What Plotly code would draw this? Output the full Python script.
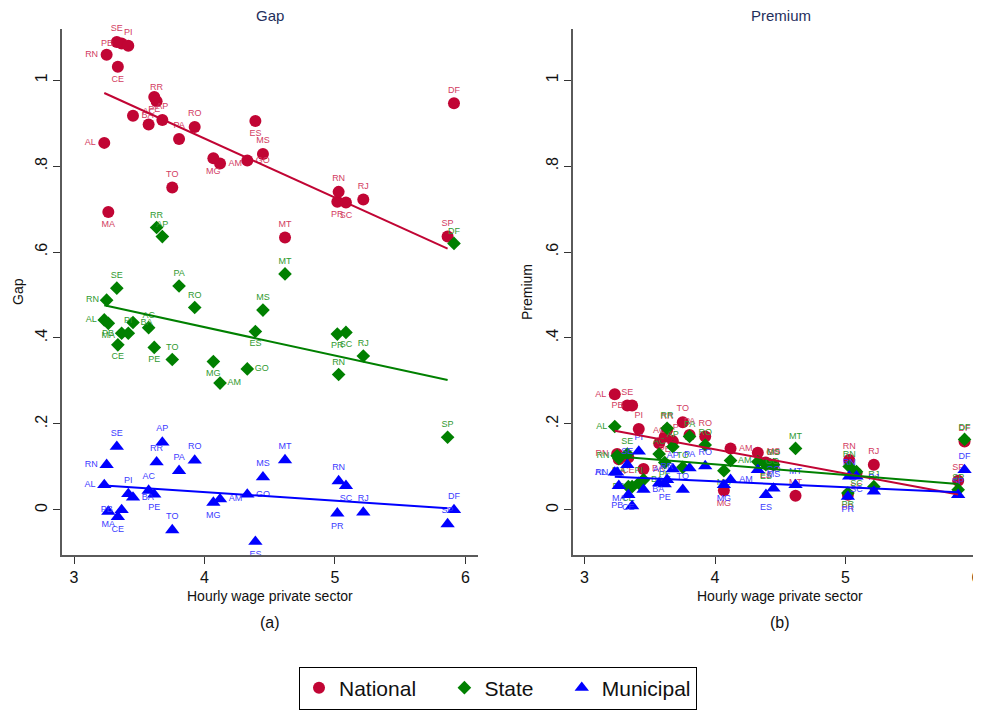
import plotly.graph_objects as go

# ---------------- data ----------------
states = ["AC", "AL", "AM", "AP", "BA", "CE", "DF", "ES", "GO", "MA", "MG", "MS", "MT", "PA",
          "PB", "PE", "PI", "PR", "RJ", "RN", "RN", "RO", "RR", "SC", "SE", "SP", "TO"]
wage = [3.572, 3.232, 4.119, 3.677, 3.452, 3.336, 5.912, 4.390, 4.328, 3.263, 4.068, 4.448, 4.617, 3.805,
        3.365, 3.615, 3.416, 5.018, 5.217, 3.250, 5.028, 3.925, 3.633, 5.084, 3.328, 5.863, 3.753]
label_pos = ["top", "left", "right", "top", "right", "bottom", "top", "bottom", "right", "bottom", "bottom",
             "top", "top", "top", "left", "bottom", "top", "bottom", "top", "left", "top", "top", "top",
             "bottom", "top", "top", "top"]

gap_national = [0.897, 0.854, 0.806, 0.907, 0.917, 1.031, 0.946, 0.905, 0.813, 0.693, 0.818, 0.828, 0.634, 0.863,
                1.085, 0.961, 1.080, 0.717, 0.722, 1.059, 0.740, 0.891, 0.951, 0.715, 1.089, 0.636, 0.750]
gap_state = [0.424, 0.442, 0.295, 0.636, 0.436, 0.384, 0.620, 0.415, 0.328, 0.434, 0.345, 0.465, 0.549, 0.521,
             0.411, 0.378, 0.411, 0.409, 0.358, 0.488, 0.315, 0.471, 0.657, 0.413, 0.516, 0.169, 0.350]
gap_municipal = [0.045, 0.058, 0.025, 0.157, 0.029, -0.016, 0.000, -0.074, 0.036, -0.004, 0.017, 0.076, 0.116, 0.091,
                 0.000, 0.036, 0.037, -0.008, -0.006, 0.105, 0.067, 0.115, 0.111, 0.056, 0.147, -0.033, -0.047]

prem_national = [0.155, 0.269, 0.143, 0.160, 0.095, 0.122, 0.159, 0.110, 0.133, 0.118, 0.045, 0.105, 0.033, 0.174,
                 0.243, 0.170, 0.188, 0.035, 0.105, 0.130, 0.116, 0.171, 0.186, 0.085, 0.243, 0.068, 0.204]
prem_state = [0.130, 0.194, 0.115, 0.147, 0.070, 0.054, 0.164, 0.105, 0.112, 0.120, 0.091, 0.105, 0.143, 0.171,
              0.054, 0.110, 0.062, 0.039, 0.054, 0.126, 0.101, 0.151, 0.190, 0.089, 0.130, 0.047, 0.099]
prem_municipal = [0.062, 0.087, 0.070, 0.095, 0.047, 0.035, 0.093, 0.035, 0.093, 0.056, 0.058, 0.050, 0.058, 0.097,
                  0.009, 0.060, 0.136, 0.031, 0.043, 0.087, 0.078, 0.102, 0.070, 0.078, 0.105, 0.035, 0.047]

# linear-fit lines (endpoints)
fit_x = [3.232, 5.863]
gap_fit = {"National": [0.970, 0.608], "State": [0.476, 0.302], "Municipal": [0.057, 0.004]}
prem_fit = {"National": [0.184, 0.036], "State": [0.125, 0.060], "Municipal": [0.077, 0.041]}

series = ["National", "State", "Municipal"]
y_ticks = [0, 0.2, 0.4, 0.6, 0.8, 1]
y_ticktext = ["0", ".2", ".4", ".6", ".8", "1"]
x_ticks = [3, 4, 5, 6]

# ---------------- styles ----------------
colors = {"National": "#c10534", "State": "#008000", "Municipal": "#0000ff"}
label_colors = {"National": "#d23c62", "State": "#2f9a2f", "Municipal": "#3c3cff"}
symbols = {"National": "circle", "State": "diamond", "Municipal": "triangle-up"}
sizes = {"National": 12, "State": 10.5, "Municipal": 12.5}
# trailing no-break spaces widen the gap between legend entries
legend_pad = {"National": "\u00a0" * 4, "State": "\u00a0" * 4, "Municipal": ""}
pos_map = {"top": "top center", "bottom": "bottom center", "left": "middle left", "right": "middle right"}
text_pos = [pos_map[p] for p in label_pos]
FONT = "Liberation Sans, Arial, sans-serif"

fig = go.Figure()

panels = [
    ("x", "y", {"National": gap_national, "State": gap_state, "Municipal": gap_municipal}, gap_fit, True),
    ("x2", "y2", {"National": prem_national, "State": prem_state, "Municipal": prem_municipal}, prem_fit, False),
]

for xa, ya, data, fits, show in panels:
    for s in series:
        fig.add_trace(go.Scatter(
            x=wage, y=data[s], xaxis=xa, yaxis=ya, mode="markers+text", name=s + legend_pad[s],
            text=states, textposition=text_pos,
            textfont=dict(size=9, color=label_colors[s], family=FONT),
            marker=dict(symbol=symbols[s], size=sizes[s], color=colors[s]),
            showlegend=show, legendgroup=s, cliponaxis=False,
        ))
    for s in series:
        fig.add_trace(go.Scatter(
            x=fit_x, y=fits[s], xaxis=xa, yaxis=ya, mode="lines",
            line=dict(color=colors[s], width=2), showlegend=False, hoverinfo="skip",
        ))

# the page body has an 8px margin: place everything in page pixels
OX, OY = 8, 8
W, H = 981 - OX, 710 - OY
def px(x):
    return (x - OX) / W
def py(y):
    return (H - (y - OY)) / H

axis_common = dict(showline=True, linecolor="#5a5a5a", linewidth=1.5, ticks="outside", ticklen=7,
                   tickwidth=1.3, tickcolor="#333333", showgrid=False, zeroline=False,
                   tickfont=dict(size=16, color="#111111", family=FONT))

fig.update_layout(
    width=W, height=H, margin=dict(l=0, r=0, t=0, b=0),
    paper_bgcolor="white", plot_bgcolor="white",
    font=dict(family=FONT, color="#111111"),
    xaxis=dict(domain=[px(62), px(478)], range=[2.908, 6.096], tickvals=x_ticks, anchor="y", **axis_common),
    yaxis=dict(domain=[py(555), py(29)], range=[-0.105, 1.119], tickvals=y_ticks, ticktext=y_ticktext,
               tickangle=-90, anchor="x", **axis_common),
    xaxis2=dict(domain=[px(573), 1.0], range=[2.912, 6.038], tickvals=x_ticks, anchor="y2", **axis_common),
    yaxis2=dict(domain=[py(555), py(29)], range=[-0.105, 1.119], tickvals=y_ticks, ticktext=y_ticktext,
                tickangle=-90, anchor="x2", **axis_common),
    legend=dict(orientation="h", x=px(498), xanchor="center", y=py(688), yanchor="middle",
                bordercolor="black", borderwidth=1, font=dict(size=21, family=FONT, color="#111111"),
                itemwidth=30, bgcolor="white"),
)

annotations = [
    dict(text="Gap", x=px(270), y=py(15), font=dict(size=15, color="#1f2f5c")),
    dict(text="Premium", x=px(781), y=py(15), font=dict(size=15, color="#1f2f5c")),
    dict(text="Gap", x=px(18), y=py(292), textangle=-90, font=dict(size=14, color="#111111")),
    dict(text="Premium", x=px(527), y=py(292), textangle=-90, font=dict(size=14, color="#111111")),
    dict(text="Hourly wage private sector", x=px(270), y=py(596), font=dict(size=14, color="#111111")),
    dict(text="Hourly wage private sector", x=px(780), y=py(596), font=dict(size=14, color="#111111")),
    dict(text="(a)", x=px(270), y=py(622), font=dict(size=16, color="#111111")),
    dict(text="(b)", x=px(780), y=py(622), font=dict(size=16, color="#111111")),
]
for a in annotations:
    a.update(xref="paper", yref="paper", showarrow=False, xanchor="center", yanchor="middle")
    a["font"]["family"] = FONT
fig.update_layout(annotations=annotations)

fig.write_html("out.html")
